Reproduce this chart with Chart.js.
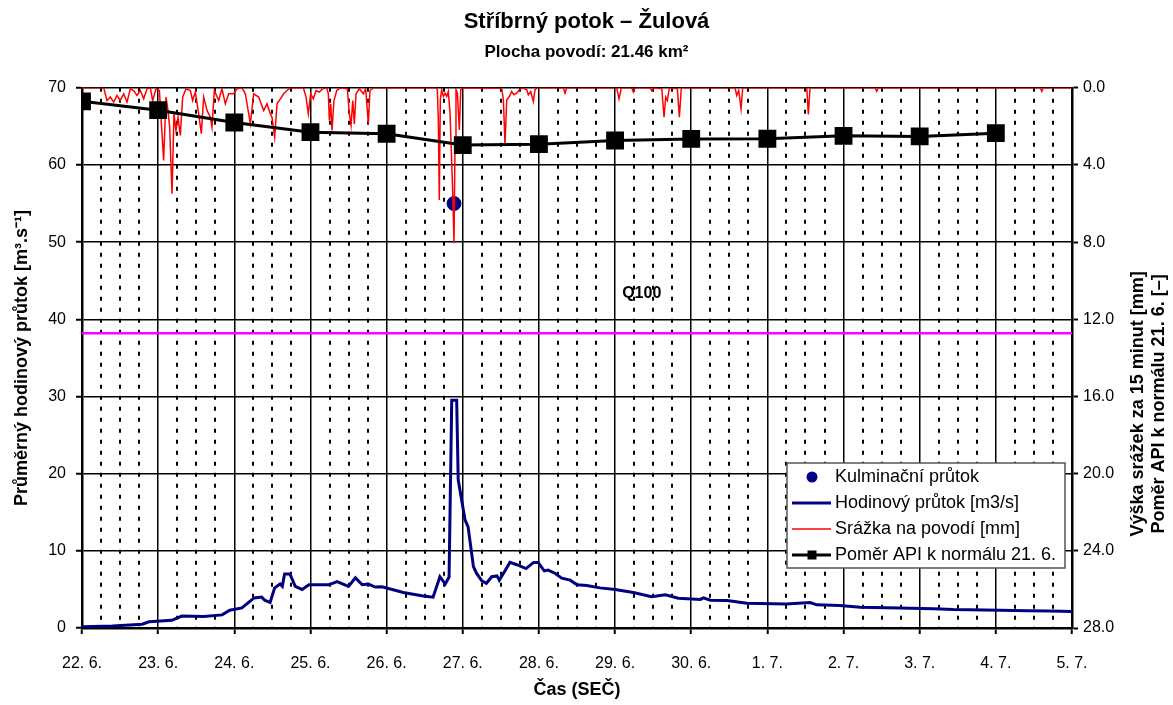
<!DOCTYPE html>
<html>
<head>
<meta charset="utf-8">
<title>Stříbrný potok – Žulová</title>
<script src="https://cdn.jsdelivr.net/npm/chart.js@4.4.1/dist/chart.umd.min.js"></script>
<style>
  html, body { margin: 0; padding: 0; background: #fff; }
  #wrap { width: 1173px; height: 705px; }
</style>
</head>
<body>
<div id="wrap"><canvas id="hydrograph" width="1173" height="705"></canvas></div>
<script>
const canvas = document.getElementById("hydrograph");

// x = days since 22. 6. 00:00
const dayLabels = ["22. 6.", "23. 6.", "24. 6.", "25. 6.", "26. 6.", "27. 6.", "28. 6.", "29. 6.", "30. 6.", "1. 7.", "2. 7.", "3. 7.", "4. 7.", "5. 7."];

// hourly discharge [m3/s]
const flowDays = [0, 0.40, 0.79, 0.88, 1.18, 1.31, 1.60, 1.84, 1.94, 2.10, 2.26, 2.36, 2.40, 2.47, 2.53, 2.60, 2.63, 2.66, 2.73, 2.80, 2.89, 2.98, 3.24, 3.35, 3.50, 3.59, 3.68, 3.76, 3.85, 3.94, 4.22, 4.48, 4.61, 4.70, 4.77, 4.82, 4.855, 4.92, 4.94, 5.03, 5.07, 5.14, 5.18, 5.25, 5.31, 5.38, 5.45, 5.48, 5.62, 5.71, 5.83, 5.93, 5.99, 6.07, 6.12, 6.21, 6.30, 6.41, 6.50, 6.63, 6.80, 7.00, 7.24, 7.48, 7.66, 7.83, 8.12, 8.16, 8.25, 8.47, 8.73, 9.25, 9.56, 9.65, 9.95, 10.22, 10.74, 11.18, 11.44, 12.05, 12.41, 12.71, 13.0];
const flowValues = [0.17, 0.25, 0.5, 0.8, 1.0, 1.55, 1.5, 1.7, 2.3, 2.6, 3.9, 4.0, 3.6, 3.3, 5.2, 5.7, 5.4, 7.0, 7.0, 5.4, 5.0, 5.6, 5.6, 6.0, 5.4, 6.5, 5.6, 5.7, 5.3, 5.35, 4.6, 4.15, 4.0, 6.65, 5.7, 6.6, 29.5, 29.5, 19.2, 14.0, 13.1, 7.95, 7.1, 6.1, 5.8, 6.65, 6.75, 6.2, 8.5, 8.2, 7.7, 8.5, 8.5, 7.4, 7.5, 7.1, 6.45, 6.2, 5.6, 5.5, 5.2, 5.0, 4.6, 4.06, 4.3, 3.85, 3.7, 3.9, 3.6, 3.55, 3.2, 3.1, 3.3, 3.0, 2.9, 2.7, 2.6, 2.5, 2.4, 2.3, 2.25, 2.2, 2.15];

// 15-minute basin rainfall [mm]
const rainDays = [0, 0.285, 0.328, 0.372, 0.416, 0.460, 0.503, 0.547, 0.591, 0.635, 0.678, 0.722, 0.766, 0.810, 0.854, 0.897, 0.928, 0.972, 1.016, 1.072, 1.103, 1.129, 1.151, 1.182, 1.208, 1.234, 1.261, 1.291, 1.322, 1.366, 1.423, 1.453, 1.488, 1.532, 1.567, 1.598, 1.642, 1.685, 1.707, 1.738, 1.795, 1.838, 1.882, 1.926, 1.992, 2.035, 2.101, 2.145, 2.211, 2.254, 2.320, 2.386, 2.429, 2.473, 2.495, 2.530, 2.561, 2.605, 2.648, 2.692, 2.736,
  2.907, 2.942, 2.972, 3.003, 3.038, 3.073, 3.116, 3.161, 3.213, 3.235, 3.248, 3.266, 3.283, 3.309, 3.345, 3.397, 3.484, 3.511, 3.533, 3.555, 3.576, 3.598, 3.642, 3.695, 3.725, 3.760, 3.782, 3.826,
  4.649, 4.666, 4.679, 4.692, 4.705, 4.723, 4.745, 4.767, 4.789, 4.810, 4.833, 4.855, 4.868, 4.885, 4.898, 4.911, 4.929, 4.955, 4.973, 4.990,
  5.511, 5.533, 5.555, 5.577, 5.612, 5.642, 5.673, 5.708, 5.743, 5.787, 5.840, 5.861, 5.892, 5.927, 5.949, 5.979,
  6.321, 6.343, 6.365, 7.021, 7.052, 7.082, 7.218, 7.240, 7.262, 7.459, 7.481, 7.503, 7.613, 7.643, 7.665, 7.686, 7.713, 7.818, 7.844, 7.870,
  8.575, 8.597, 8.624, 8.654, 8.676, 9.517, 9.538, 9.560, 10.415, 10.436, 10.457, 12.582, 12.603, 12.624, 13.0];
const rainValues = [0, 0, 0.66, 0.48, 0.74, 0.40, 0.66, 0.31, 0.74, 0.05, 0.14, 0.40, 0.14, 0.57, 0.05, 0, 0.66, 0.05, 0.14, 3.77, 0.48, 1.18, 2.04, 5.49, 1.35, 2.21, 1.52, 2.47, 0.48, 0.05, 0.14, 0.66, 0.22, 1.35, 2.38, 0.48, 1.18, 1.52, 2.04, 0.14, 0.66, 0.05, 0.83, 0.31, 0.31, 0.05, 0, 0.31, 1.87, 0.31, 0.48, 1.18, 0.83, 1.35, 1.52, 2.56, 0.83, 0.57, 0.31, 0.14, 0,
  0, 0.48, 1.35, 0.31, 0.57, 0.14, 0.22, 0.05, 0, 0.31, 1.69, 0.83, 2.21, 0.66, 0.14, 0, 0.05, 1.35, 1.95, 0.66, 1.87, 0.31, 0.05, 0.31, 0.05, 1.87, 0.14, 0,
  0, 0.10, 1.66, 5.81, 0.62, 0.10, 0.45, 0.28, 0.45, 0.19, 1.31, 3.90, 5.46, 8.05, 3.04, 0.10, 0.28, 2.18, 0.10, 0,
  0.02, 0.62, 2.95, 0.62, 0.45, 0.19, 0.36, 0.28, 0.10, 0, 0.10, 0.36, 0.19, 0.71, 0.10, 0,
  0, 0.28, 0, 0, 0.57, 0, 0, 0.22, 0, 0, 0.14, 0, 0.05, 1.52, 0.48, 0.66, 0, 0.05, 1.52, 0,
  0, 0.40, 0.14, 1.09, 0, 0, 1.38, 0, 0, 0.19, 0, 0, 0.19, 0, 0];

// API ratio to the normal of 21. 6. [-], one value per day
const apiDays = [0, 1, 2, 3, 4, 5, 6, 7, 8, 9, 10, 11, 12];
const apiValues = [0.70, 1.16, 1.80, 2.30, 2.38, 2.97, 2.92, 2.73, 2.65, 2.64, 2.49, 2.52, 2.35];

// culmination discharge and Q100
const peakDay = 4.885;
const peakFlow = 55;
const q100 = 38.2;

const navy = "#000080";
const fontFamily = '"Liberation Sans", Arial, Helvetica, sans-serif';

Chart.defaults.font.family = fontFamily;
Chart.defaults.color = "#000";

function toPoints(xs, ys){
    return xs.map((x, i) => ({x: x, y: ys[i]}));
}

function isWholeDay(v){
    return Math.abs(v - Math.round(v)) < 1e-6;
}

//legend box in the lower right corner of the plot
const legendBox = {
    id: "legendBox",
    afterDraw(chart){
        const c = chart.ctx;
        const area = chart.chartArea;
        const w = 278, h = 105;
        const left = area.right - 7 - w;
        const top = area.bottom - 60 - h;
        c.save();
        c.fillStyle = "#fff";
        c.fillRect(left, top, w, h);
        c.strokeStyle = "#555";
        c.lineWidth = 1.5;
        c.strokeRect(left, top, w, h);
        const rows = [
            {text: "Kulminační průtok", kind: "dot"},
            {text: "Hodinový průtok [m3/s]", kind: "line", color: navy, width: 3},
            {text: "Srážka na povodí [mm]", kind: "line", color: "#ff0000", width: 1.5},
            {text: "Poměr API k normálu 21. 6.", kind: "api"}
        ];
        c.font = "18px " + fontFamily;
        c.textBaseline = "middle";
        c.textAlign = "left";
        rows.forEach((row, i) => {
            const y = top + 14 + i * 26;
            const sx = left + 5, ex = left + 44, mx = left + 25;
            if(row.kind === "dot"){
                c.fillStyle = navy;
                c.beginPath();
                c.arc(mx, y, 5.5, 0, Math.PI * 2);
                c.fill();
            } else {
                c.strokeStyle = row.color || "#000";
                c.lineWidth = row.width || 3;
                c.beginPath();
                c.moveTo(sx, y);
                c.lineTo(ex, y);
                c.stroke();
                if(row.kind === "api"){
                    c.fillStyle = "#000";
                    c.fillRect(mx - 4.5, y - 4.5, 9, 9);
                }
            }
            c.fillStyle = "#000";
            c.fillText(row.text, left + 48, y);
        });
        c.restore();
    }
};

//Q100 label and the right-hand axis titles
const extraText = {
    id: "extraText",
    afterDatasetsDraw(chart){
        const c = chart.ctx;
        const xs = chart.scales.x;
        const ys = chart.scales.y;
        c.save();
        c.fillStyle = "#000";
        c.font = "bold 16px " + fontFamily;
        c.textAlign = "center";
        c.textBaseline = "middle";
        c.fillText("Q100", xs.getPixelForValue(7.35), ys.getPixelForValue(q100) - 40);

        const area = chart.chartArea;
        c.font = "bold 18px " + fontFamily;
        const cy = (area.top + area.bottom) / 2 + 46;
        [["Výška srážek za 15 minut [mm]", area.right + 66], ["Poměr API k normálu 21. 6. [–]", area.right + 87]].forEach(t => {
            c.save();
            c.translate(t[1], cy);
            c.rotate(-Math.PI / 2);
            c.fillText(t[0], 0, 0);
            c.restore();
        });
        c.restore();
    }
};

const chart = new Chart(canvas, {
    type: "line",
    data: {
        datasets: [
            {
                label: "Poměr API k normálu 21. 6.",
                data: toPoints(apiDays, apiValues),
                xAxisID: "x",
                yAxisID: "y2",
                borderColor: "#000",
                backgroundColor: "#000",
                borderWidth: 3,
                pointStyle: "rect",
                pointRadius: 10.5,
                tension: 0
            },
            {
                label: "Srážka na povodí [mm]",
                data: toPoints(rainDays, rainValues),
                xAxisID: "x",
                yAxisID: "y2",
                borderColor: "#ff0000",
                borderWidth: 1.5,
                pointRadius: 0,
                tension: 0
            },
            {
                label: "Kulminační průtok",
                data: [{x: peakDay, y: peakFlow}],
                xAxisID: "x",
                yAxisID: "y",
                showLine: false,
                pointRadius: 7,
                borderColor: navy,
                backgroundColor: navy
            },
            {
                label: "Hodinový průtok [m3/s]",
                data: toPoints(flowDays, flowValues),
                xAxisID: "x",
                yAxisID: "y",
                borderColor: navy,
                borderWidth: 3,
                pointRadius: 0,
                tension: 0
            },
            {
                label: "Q100",
                data: [{x: 0, y: q100}, {x: dayLabels.length - 1, y: q100}],
                xAxisID: "x",
                yAxisID: "y",
                borderColor: "#ff00ff",
                borderWidth: 2.5,
                pointRadius: 0
            }
        ]
    },
    options: {
        responsive: false,
        animation: false,
        devicePixelRatio: 1,
        layout: { padding: 0 },
        plugins: {
            legend: { display: false },
            tooltip: { enabled: false },
            title: {
                display: true,
                text: "Stříbrný potok – Žulová",
                font: { size: 22, weight: "bold" },
                padding: { top: 9, bottom: 3 }
            },
            subtitle: {
                display: true,
                text: "Plocha povodí: 21.46 km²",
                font: { size: 17, weight: "bold" },
                color: "#000",
                padding: { top: 4, bottom: 25 }
            }
        },
        scales: {
            x: {
                type: "linear",
                position: "bottom",
                min: 0,
                max: dayLabels.length - 1,
                afterFit: s => { s.height = 77; },
                ticks: {
                    stepSize: 1,
                    autoSkip: false,
                    maxRotation: 0,
                    padding: 20,
                    font: { size: 16 },
                    callback: v => dayLabels[v] || ""
                },
                grid: { color: "#000", lineWidth: 1.5, tickLength: 6, tickColor: "#000", tickWidth: 2 },
                border: { color: "#000", width: 2.5 },
                title: {
                    display: true,
                    text: "Čas (SEČ)",
                    font: { size: 18, weight: "bold" },
                    padding: { top: 0, bottom: 4 }
                }
            },
            x2: {
                type: "linear",
                position: "bottom",
                min: 0,
                max: dayLabels.length - 1,
                ticks: { display: false, stepSize: 0.25, autoSkip: false },
                grid: {
                    drawTicks: false,
                    lineWidth: 2,
                    color: c => isWholeDay(c.tick.value) ? "rgba(0,0,0,0)" : "#000"
                },
                border: { display: false, dash: [4, 7] }
            },
            y: {
                position: "left",
                min: 0,
                max: 70,
                afterFit: s => { s.width = 82; },
                ticks: { stepSize: 10, padding: 10, font: { size: 16 } },
                grid: { color: "#000", lineWidth: 1.5, tickLength: 6, tickColor: "#000", tickWidth: 2 },
                border: { color: "#000", width: 2.5 },
                title: {
                    display: true,
                    text: "Průměrný hodinový průtok [m³.s⁻¹]",
                    font: { size: 18, weight: "bold" },
                    padding: { top: 11, bottom: 0 }
                }
            },
            y2: {
                position: "right",
                min: 0,
                max: 28,
                reverse: true,
                afterFit: s => { s.width = 101; },
                ticks: { stepSize: 4, padding: 5, font: { size: 16 }, callback: v => v.toFixed(1) },
                grid: { drawOnChartArea: false, tickLength: 6, tickColor: "#000", tickWidth: 2 },
                border: { color: "#000", width: 2.5 }
            }
        }
    },
    plugins: [extraText, legendBox]
});
</script>
</body>
</html>
